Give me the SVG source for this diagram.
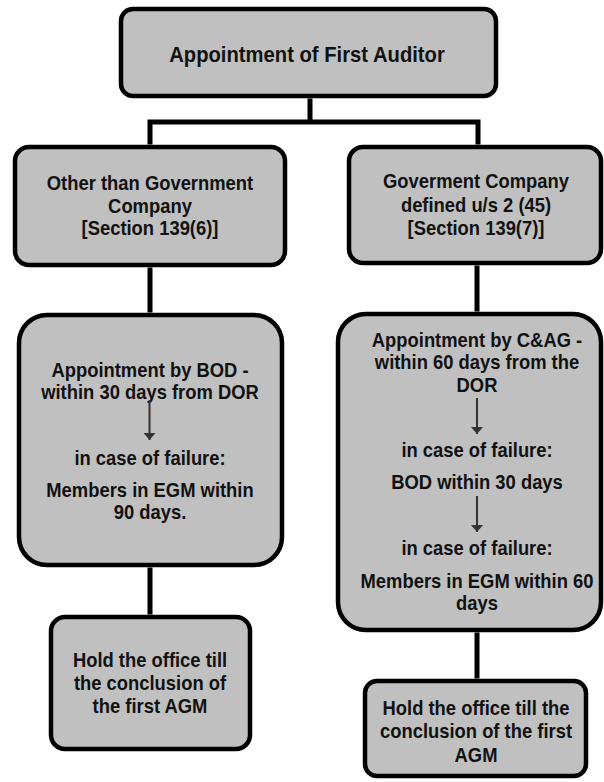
<svg xmlns="http://www.w3.org/2000/svg" width="604" height="782" viewBox="0 0 604 782">
<defs>
<style>
.box{fill:#c0c0c0;stroke:#000;stroke-width:4.5}
.conn{fill:none;stroke:#000;stroke-width:5}
.arr{fill:none;stroke:#333;stroke-width:2}
text{font-family:"Liberation Sans",Arial,sans-serif;font-weight:bold;font-size:20px;fill:#111;text-anchor:middle}
.title{font-size:22px}
</style>
<marker id="ad" viewBox="0 0 12 7" refX="6" refY="7" markerWidth="12" markerHeight="7" markerUnits="userSpaceOnUse" orient="0">
<path d="M0,0 L12,0 L6,7 Z" fill="#333"/>
</marker>
</defs>
<rect width="604" height="782" fill="#fff"/>
<g id="root">
<rect class="box" x="121" y="9" width="375" height="87" rx="12"/>
<g transform="translate(307,0) scale(0.92,1)"><text class="title" x="0" y="62">Appointment of First Auditor</text></g>
</g>
<g id="other">
<rect class="box" x="15" y="147" width="270" height="118" rx="14"/>
<g transform="translate(150,0) scale(0.92,1)">
<text x="0" y="190">Other than Government</text>
<text x="0" y="213">Company</text>
<text x="0" y="235">[Section 139(6)]</text>
</g>
</g>
<g id="govt">
<rect class="box" x="349" y="147" width="252" height="116" rx="14"/>
<g transform="translate(476,0) scale(0.92,1)">
<text x="0" y="188">Goverment Company</text>
<text x="0" y="212">defined u/s 2 (45)</text>
<text x="0" y="235">[Section 139(7)]</text>
</g>
</g>
<g id="bod">
<rect class="box" x="19" y="315" width="263" height="250" rx="28"/>
<g transform="translate(150,0) scale(0.92,1)">
<text x="0" y="377">Appointment by BOD -</text>
<text x="0" y="399">within 30 days from DOR</text>
<text x="0" y="465">in case of failure:</text>
<text x="0" y="497">Members in EGM within</text>
<text x="0" y="519">90 days.</text>
</g>
</g>
<g id="cag">
<rect class="box" x="338" y="314" width="263" height="316" rx="28"/>
<g transform="translate(477,0) scale(0.92,1)">
<text x="0" y="347">Appointment by C&amp;AG -</text>
<text x="0" y="369">within 60 days from the</text>
<text x="0" y="392">DOR</text>
<text x="0" y="457">in case of failure:</text>
<text x="0" y="489">BOD within 30 days</text>
<text x="0" y="555">in case of failure:</text>
<text x="0" y="588">Members in EGM within 60</text>
<text x="0" y="610">days</text>
</g>
</g>
<g id="hold-left">
<rect class="box" x="51" y="617" width="199" height="132" rx="14"/>
<g transform="translate(150,0) scale(0.92,1)">
<text x="0" y="667">Hold the office till</text>
<text x="0" y="690">the conclusion of</text>
<text x="0" y="713">the first AGM</text>
</g>
</g>
<g id="hold-right">
<rect class="box" x="365" y="681" width="221" height="95" rx="12"/>
<g transform="translate(476,0) scale(0.92,1)">
<text x="0" y="715">Hold the office till the</text>
<text x="0" y="738">conclusion of the first</text>
<text x="0" y="762">AGM</text>
</g>
</g>
<g id="connectors">
<path class="conn" d="M310,98.5 V122 M150,122 H478 M150,119.5 V144.5 M478,119.5 V144.5"/>
<path class="conn" d="M150,267.5 V312.5 M477,265.5 V311.5 M150,567.5 V614.5 M477,632.5 V678.5"/>
<path class="arr" d="M149.5,400 V440" marker-end="url(#ad)"/>
<path class="arr" d="M477,398 V434" marker-end="url(#ad)"/>
<path class="arr" d="M477,496 V532" marker-end="url(#ad)"/>
</g>
</svg>
